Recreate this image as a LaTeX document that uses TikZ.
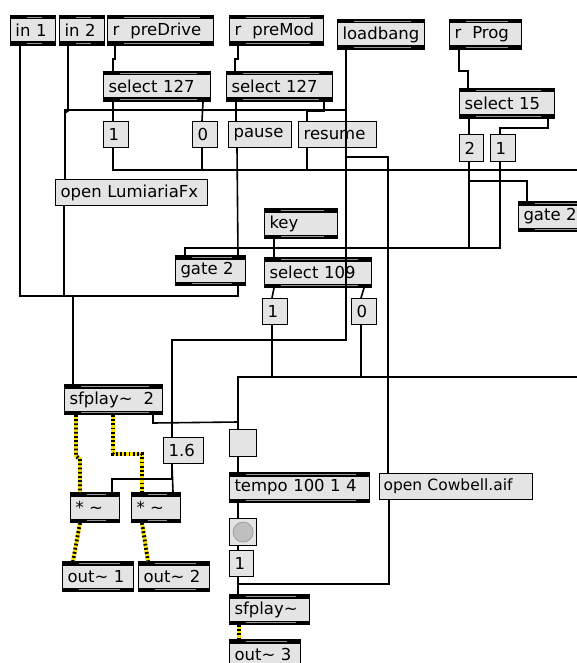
\documentclass[tikz,border=0pt]{standalone}
\usepackage{fontspec}
\setmainfont{DejaVu Sans}
\definecolor{boxfill}{RGB}{228,228,228}
\definecolor{barstrip}{RGB}{150,150,150}
\definecolor{sigyellow}{RGB}{250,225,0}
\tikzset{
  obj/.style={draw=black, line width=1pt, fill=boxfill, anchor=north west,
    minimum height=30pt, inner xsep=5pt, inner ysep=0pt, align=left,
    font=\fontsize{16.5}{19}\selectfont,
    path picture={
      \fill[black] (path picture bounding box.north west) rectangle ([yshift=-4pt]path picture bounding box.north east);
      \fill[black] (path picture bounding box.south west) rectangle ([yshift=4pt]path picture bounding box.south east);
      \draw[barstrip, line width=1.3pt] ([xshift=16pt,yshift=-2pt]path picture bounding box.north west) -- ([xshift=-14pt,yshift=-2pt]path picture bounding box.north east);
      \draw[barstrip, line width=1.3pt] ([xshift=16pt,yshift=2pt]path picture bounding box.south west) -- ([xshift=-14pt,yshift=2pt]path picture bounding box.south east);
    }},
  msg/.style={draw=black, line width=1.2pt, fill=boxfill, anchor=north west,
    minimum height=26pt, inner xsep=5pt, inner ysep=0pt, align=left,
    font=\fontsize{16.5}{19}\selectfont},
  wire/.style={line width=1.6pt, black},
  sig/.style={line width=3.8pt, draw=sigyellow,
    postaction={draw=black, line width=3.8pt, dash pattern=on 1.8pt off 2.4pt}},
}
\begin{document}
\begin{tikzpicture}[x=1pt,y=-1pt]
\useasboundingbox (0,0) rectangle (577,663);
\fill[white] (0,0) rectangle (577,663);

\node[obj, text width=35pt] (in1) at (10,15) {in 1};
\node[obj, text width=35pt] (in2) at (59,15) {in 2};
\node[obj, text width=96pt] (rDrive) at (107,15) {r\ \ preDrive};
\node[obj, text width=84pt] (rMod) at (229,15) {r\ \ preMod};
\node[obj, text width=77pt] (loadbang) at (337,19) {loadbang};
\node[obj, text width=62pt] (rProg) at (449,19) {r\ \ Prog};

\node[obj, text width=97pt] (selDrive) at (103,71) {select 127};
\node[obj, text width=96pt] (selMod) at (226,71) {select 127};
\node[obj, text width=85pt] (selProg) at (459,88) {select 15};

\node[msg, text width=15pt] (drive1) at (103,121) {1};
\node[msg, text width=15pt] (drive0) at (192,121) {0};
\node[msg, text width=53pt] (pause) at (228,121) {pause};
\node[msg, text width=68pt] (resume) at (298,121) {resume};
\node[msg, text width=14pt, minimum height=27pt] (prog2) at (459,134) {2};
\node[msg, text width=15pt, minimum height=27pt] (prog1) at (490,134) {1};

\node[msg, text width=142pt] (lumi) at (55,179) {open LumiariaFx};
\node[obj, text width=63pt] (key) at (264,208) {key};
\node[obj, text width=62pt] (gateB) at (518,201) {gate 2};
\node[obj, text width=60pt] (gateA) at (175,255) {gate 2};
\node[obj, text width=97pt] (selKey) at (264,257) {select 109};
\node[msg, text width=15pt] (key1) at (262,298) {1};
\node[msg, text width=15pt] (key0) at (351,298) {0};

\node[obj, text width=88pt] (sfplay2) at (64,384) {sfplay\textasciitilde\ \ 2};
\node[msg, minimum width=27pt, minimum height=27pt] (tog) at (229,429) {};
\node[msg, text width=30pt] (m16) at (163,437) {1.6};
\node[obj, text width=130pt] (tempo) at (229,472) {tempo 100 1 4};
\node[msg, text width=145pt, inner xsep=4pt, font=\fontsize{15.5}{18}\selectfont] (cowbell) at (379,473) {open Cowbell.aif};
\node[obj, text width=39pt] (mul1) at (70,492) {* \textasciitilde};
\node[obj, text width=39pt] (mul2) at (131,492) {* \textasciitilde};
\node[msg, minimum width=27pt, minimum height=27pt,
  path picture={\filldraw[fill=gray!50, draw=gray!75, line width=0.8pt] (path picture bounding box.center) circle (10pt);}] (bng) at (229,518) {};
\node[msg, text width=14pt] (bang1) at (229,550) {1};
\node[obj, text width=61pt] (out1) at (62,561) {out\textasciitilde\ 1};
\node[obj, text width=61pt] (out2) at (138,561) {out\textasciitilde\ 2};
\node[obj, text width=70pt] (sfplay) at (229,594) {sfplay\textasciitilde};
\node[obj, text width=61pt] (out3) at (229,639) {out\textasciitilde\ 3};

\coordinate (jA) at (73,296);
\coordinate (eastA) at (577,170);
\coordinate (eastB) at (577,377);
\coordinate (lb1) at (346,110);
\coordinate (lb2) at (346,157);
\coordinate (tg) at (238,422);

\draw[wire] ([xshift=10pt]in1.south west) |- (jA) -- ([xshift=9pt]sfplay2.north west);
\draw[wire] ([xshift=-8pt]gateA.south east) |- (jA);
\draw[wire] ([xshift=9pt]lumi.south west) |- (jA);
\draw[wire] ([xshift=9pt]in2.south west) -- ++(0,65) -- ++(-3,2) -- ([xshift=10pt]lumi.north west);
\draw[wire] ([xshift=9pt]loadbang.south west) -- (346,340) -| ([xshift=9pt]m16.north west);
\draw[wire] (lb1) -| ([xshift=10pt]lumi.north west);
\draw[wire] (lb2) -| ([xshift=9pt]cowbell.north west);
\draw[wire] ([xshift=8pt]rDrive.south west) -- ++(0,13) -- ++(-2,0) -- ([xshift=10pt]selDrive.north west);
\draw[wire] ([xshift=9pt]rMod.south west) -- ++(0,13) -- ++(-3,0) -- ([xshift=9pt]selMod.north west);
\draw[wire] ([xshift=10pt]rProg.south west) -- ++(0,21) -| ([xshift=9pt]selProg.north west);
\draw[wire] ([xshift=10pt]selDrive.south west) -- ([xshift=10pt]drive1.north west);
\draw[wire] ([xshift=-8pt]selDrive.south east) -- ([xshift=10pt]drive0.north west);
\draw[wire] ([xshift=10pt]drive1.south west) |- (eastA);
\draw[wire] ([xshift=10pt]drive0.south west) |- (eastA);
\draw[wire] ([xshift=9pt]resume.south west) |- (eastA);
\draw[wire] ([xshift=10pt]selMod.south west) -- ([xshift=8pt]pause.north west);
\draw[wire] ([xshift=-9pt]selMod.south east) -- ++(0,9) -| ([xshift=9pt]resume.north west);
\draw[wire] ([xshift=9pt]pause.south west) -- ([xshift=-8pt]gateA.north east);
\draw[wire] ([xshift=10pt]selProg.south west) -- ([xshift=10pt]prog2.north west);
\draw[wire] ([xshift=-7pt]selProg.south east) -- ++(0,9) -| ([xshift=10pt]prog1.north west);
\draw[wire] ([xshift=10pt]prog2.south west) -- ++(0,86);
\draw[wire] ([xshift=10pt]prog2.south west) -- ++(0,19) -| ([xshift=9pt]gateB.north west);
\draw[wire] ([xshift=10pt]prog1.south west) -- ++(0,86) -| ([xshift=10pt]gateA.north west);
\draw[wire] ([xshift=10pt]key.south west) -- ([xshift=10pt]selKey.north west);
\draw[wire] ([xshift=10pt]selKey.south west) -- ([xshift=10pt]key1.north west);
\draw[wire] ([xshift=-8pt]selKey.south east) -- ([xshift=10pt]key0.north west);
\draw[wire] ([xshift=10pt]key1.south west) -- ++(0,53);
\draw[wire] ([xshift=10pt]key0.south west) |- (eastB);
\draw[wire] (eastB) -| ([xshift=9pt]tog.north west);
\draw[wire] ([xshift=-10pt]sfplay2.south east) -- ++(0,8) -- (tg);
\draw[wire] ([xshift=9pt]m16.south west) -- ([xshift=-8pt]mul2.north east);
\draw[wire] ([xshift=9pt]m16.south west) -- ++(0,15) -| ([xshift=-8pt]mul1.north east);
\draw[wire] ([xshift=9pt]tog.south west) -- ([xshift=9pt]tempo.north west);
\draw[wire] ([xshift=9pt]tempo.south west) -- ([xshift=9pt]bng.north west);
\draw[wire] ([xshift=9pt]bng.south west) -- ([xshift=9pt]bang1.north west);
\draw[wire] ([xshift=9pt]bang1.south west) -- ([xshift=9pt]sfplay.north west);
\draw[wire] ([xshift=10pt]cowbell.south west) -- ++(0,84) -| ([xshift=9pt]sfplay.north west);

\draw[sig] ([xshift=12pt]sfplay2.south west) -- ++(0,41) -- ++(4,3) -- ([xshift=10pt]mul1.north west);
\draw[sig] ([xshift=49pt]sfplay2.south west) -- ++(0,39) -| ([xshift=11pt]mul2.north west);
\draw[sig] ([xshift=10pt]mul1.south west) -- ([xshift=11pt]out1.north west);
\draw[sig] ([xshift=11pt]mul2.south west) -- ([xshift=10pt]out2.north west);
\draw[sig] ([xshift=10pt]sfplay.south west) -- ([xshift=10pt]out3.north west);
\end{tikzpicture}
\end{document}
